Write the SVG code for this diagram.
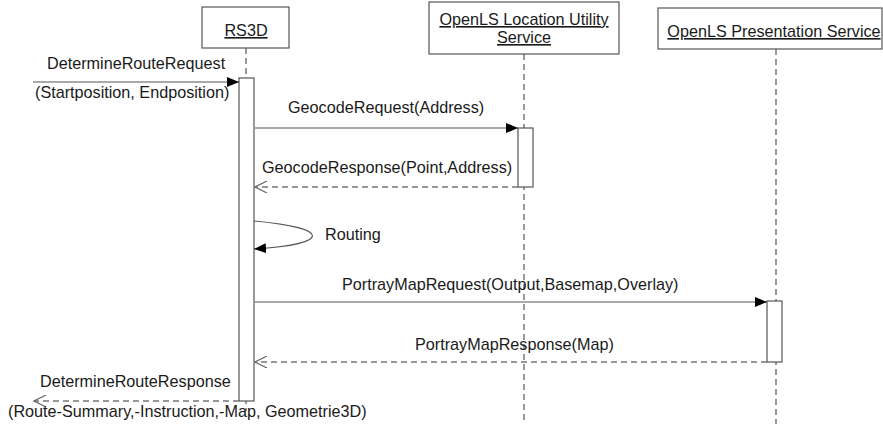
<svg xmlns="http://www.w3.org/2000/svg" width="883" height="434" viewBox="0 0 883 434">
<style>
text{font-family:"Liberation Sans",Arial,sans-serif;font-size:16.2px;fill:#1a1a1a}
.box{fill:#fff;stroke:#555;stroke-width:1.2}
.life{stroke:#555;stroke-width:1.2;stroke-dasharray:6 4;fill:none}
.act{fill:#fff;stroke:#555;stroke-width:1.2}
.msg{stroke:#555;stroke-width:1.2;fill:none}
.ret{stroke:#777;stroke-width:1.4;stroke-dasharray:6 4;fill:none}
.u{text-decoration:underline}
</style>
<defs>
<marker id="filled" markerWidth="12" markerHeight="10" refX="12" refY="5" orient="auto" markerUnits="userSpaceOnUse">
<path d="M0,0 L12,5 L0,10 Z" fill="#000"/>
</marker>
<marker id="open" markerWidth="14" markerHeight="12" refX="13" refY="6" orient="auto" markerUnits="userSpaceOnUse">
<path d="M1,0 L13,6 L1,12" fill="none" stroke="#666" stroke-width="1.2"/>
</marker>
</defs>
<rect width="883" height="434" fill="#fff"/>

<g id="lifelines">
<line class="life" x1="246" y1="48" x2="246" y2="411"/>
<line class="life" x1="524" y1="54" x2="524" y2="424"/>
<line class="life" x1="776" y1="49" x2="776" y2="424"/>
</g>

<g id="rs3d">
<rect class="box" x="202" y="7" width="87" height="41"/>
<text x="246" y="36" text-anchor="middle" class="u">RS3D</text>
<rect class="act" x="239" y="78" width="15" height="323"/>
</g>

<g id="locationutility">
<rect class="box" x="429" y="2" width="190" height="52"/>
<text x="524" y="25" text-anchor="middle" class="u">OpenLS Location Utility</text>
<text x="524" y="43" text-anchor="middle" class="u">Service</text>
<rect class="act" x="518" y="128" width="15" height="59"/>
</g>

<g id="presentation">
<rect class="box" x="658" y="8" width="224" height="41"/>
<text x="774" y="37" text-anchor="middle" class="u">OpenLS Presentation Service</text>
<rect class="act" x="767" y="301" width="15" height="61"/>
</g>

<g id="connectors">
<line class="msg" x1="33" y1="82" x2="239" y2="82" marker-end="url(#filled)"/>
<text x="47" y="69">DetermineRouteRequest</text>
<text x="35" y="98">(Startposition, Endposition)</text>

<line class="msg" x1="255" y1="128" x2="518" y2="128" marker-end="url(#filled)"/>
<text x="288" y="113">GeocodeRequest(Address)</text>

<line class="ret" x1="518" y1="187" x2="255" y2="187" marker-end="url(#open)"/>
<text x="262" y="173">GeocodeResponse(Point,Address)</text>

<path class="msg" d="M254,221 C332,228 332,244 254,249" marker-end="url(#filled)"/>
<text x="325" y="240">Routing</text>

<line class="msg" x1="255" y1="302" x2="767" y2="302" marker-end="url(#filled)"/>
<text x="342" y="290">PortrayMapRequest(Output,Basemap,Overlay)</text>

<line class="ret" x1="767" y1="362" x2="255" y2="362" marker-end="url(#open)"/>
<text x="415" y="350">PortrayMapResponse(Map)</text>

<line class="ret" x1="239" y1="401" x2="34" y2="401" marker-end="url(#open)"/>
<text x="40" y="387">DetermineRouteResponse</text>
<text x="8" y="417">(Route-Summary,-Instruction,-Map, Geometrie3D)</text>
</g>
</svg>
